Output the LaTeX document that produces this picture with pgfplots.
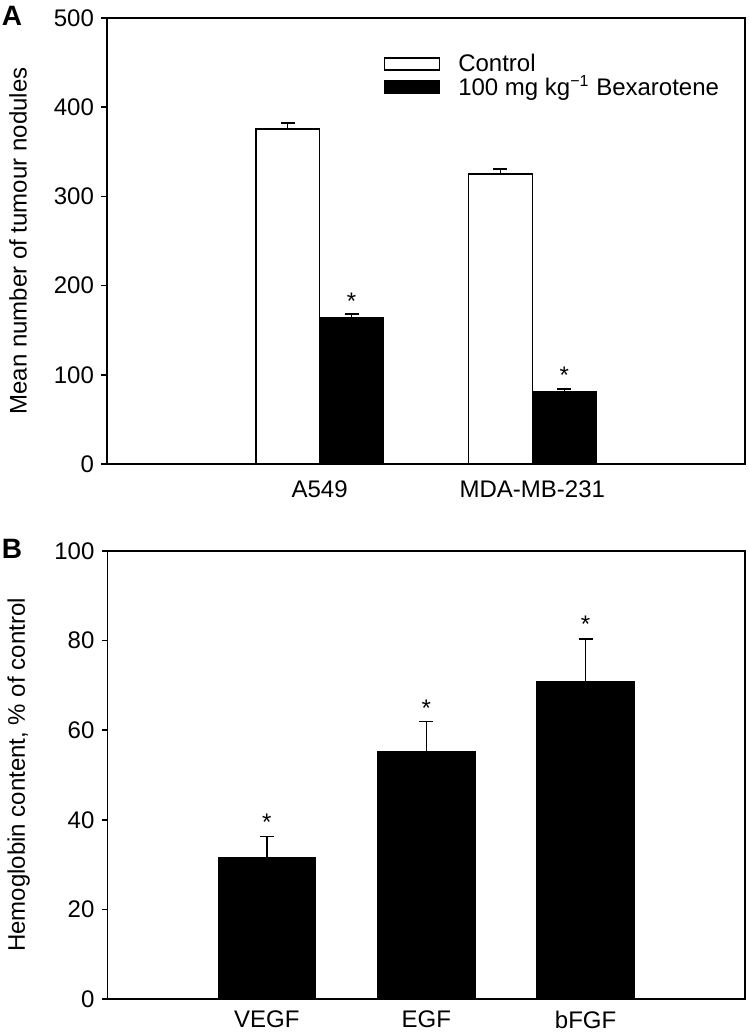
\documentclass[border=0pt]{standalone}
\usepackage{fontspec}
\setmainfont{Liberation Sans}
\usepackage{pgfplots}
\pgfplotsset{compat=1.18}
\begin{document}
\begin{tikzpicture}
\path[use as bounding box] (0,0) rectangle (374.5pt,-516.5pt);
\pgfplotsset{
  common/.style={
    scale only axis, anchor=south west,
    axis line style={line width=0.9pt},
    tick align=outside, tick pos=left,
    major tick length=3pt,
    ytick style={line width=0.8pt, black},
    xtick style={draw=none},
    tick label style={font=\fontsize{12}{14}\selectfont},
    /pgf/number format/assume math mode=true,
    label style={font=\fontsize{12}{14}\selectfont},
    ylabel style={at={(axis description cs:-0.1395,0.5)}, anchor=center},
  },
  errs/.style={
    error bars/.cd, y dir=plus, y explicit,
    error bar style={line width=0.7pt, black},
    error mark options={rotate=90, mark size=3.5pt, line width=0.7pt, black},
  },
}
% Panel A
\begin{axis}[common,
  at={(53.5pt,-232pt)}, width=319pt, height=223pt,
  xmin=0, xmax=3, ymin=0, ymax=500,
  ytick={0,100,200,300,400,500},
  xtick={1,2}, xticklabels={A549,MDA-MB-231},
  xticklabel style={yshift=-2pt},
  ylabel={Mean number of tumour nodules},
  ybar, bar width=0.3,
  legend style={at={(axis description cs:0.424,0.93)}, anchor=north west,
    draw=none, fill=none, font=\fontsize{12}{14}\selectfont,
    nodes={inner ysep=0pt}, row sep=0.8pt, column sep=7pt, cells={anchor=west}},
  legend image code/.code={\draw[#1, line width=0.7pt] (0pt,-3pt) rectangle (27.5pt,3pt);},
]
\addplot[draw=black, fill=white, line width=0.7pt, bar shift=-0.15, errs]
  coordinates {(1,375.6) +- (0,6.5) (2,325) +- (0,5.6)};
\addplot[draw=black, fill=black, line width=0.7pt, bar shift=0.15, errs]
  coordinates {(1,164) +- (0,4) (2,80.7) +- (0,3.4)};
\legend{Control, 100 mg kg\textsuperscript{−1} Bexarotene}
\node[font=\fontsize{12}{14}\selectfont] at (axis cs:1.15,183) {*};
\node[font=\fontsize{12}{14}\selectfont] at (axis cs:2.15,100) {*};
\end{axis}
% Panel B
\begin{axis}[common,
  at={(53.75pt,-499.5pt)}, width=318.75pt, height=224pt,
  xmin=0, xmax=4, ymin=0, ymax=100,
  ytick={0,20,40,60,80,100},
  xtick={1,2,3}, xticklabels={VEGF,EGF,bFGF},
  xticklabel style={yshift=0.5pt},
  ylabel={Hemoglobin content, \% of control},
  ybar, bar width=0.61,
]
\addplot[draw=black, fill=black, line width=0.7pt, bar shift=0, errs]
  coordinates {(1,31.5) +- (0,4.8) (2,55.3) +- (0,6.6) (3,70.8) +- (0,9.6)};
\node[font=\fontsize{12}{14}\selectfont] at (axis cs:1,39.5) {*};
\node[font=\fontsize{12}{14}\selectfont] at (axis cs:2,65) {*};
\node[font=\fontsize{12}{14}\selectfont] at (axis cs:3,83.7) {*};
\end{axis}
\node[font=\bfseries\fontsize{14}{16}\selectfont] at (6pt,-8pt) {A};
\node[font=\bfseries\fontsize{14}{16}\selectfont] at (6pt,-274.5pt) {B};
\end{tikzpicture}
\end{document}
